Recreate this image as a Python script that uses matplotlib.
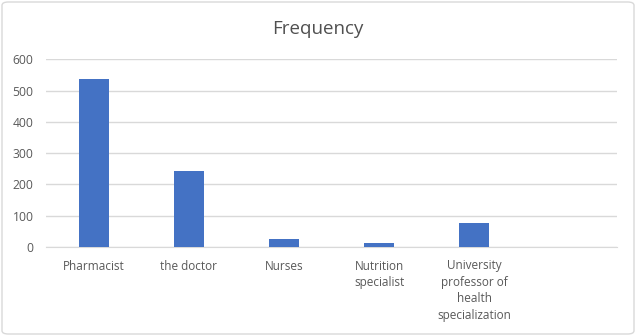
import matplotlib.pyplot as plt
from matplotlib.patches import FancyBboxPatch

categories = ["Pharmacist", "the doctor", "Nurses", "Nutrition\nspecialist",
              "University\nprofessor of\nhealth\nspecialization", ""]
frequency = [536, 243, 27, 12, 78, 0]
yticks = [0, 100, 200, 300, 400, 500, 600]

plt.rcParams['font.family'] = ['Open Sans', 'DejaVu Sans']
grey = "#595959"

fig = plt.figure(figsize=(6.36, 3.36), dpi=100)
ax = fig.add_axes([46 / 636, 1 - 247 / 336, 571 / 636, (247 - 59.3) / 336])

x = range(len(categories))
ax.bar(x, frequency, width=0.316, color="#4472c4", zorder=3)

ax.set_xlim(-0.5, len(categories) - 0.5)
ax.set_ylim(0, 600)
ax.set_yticks(yticks)
ax.set_xticks(list(x))
ax.set_xticklabels(categories, fontsize=8.5, color=grey, linespacing=1.35, va="top")
ax.tick_params(axis="y", labelsize=8.7, labelcolor=grey, length=0, pad=9)
ax.tick_params(axis="x", length=0, pad=9)
ax.grid(axis="y", color="#d9d9d9", linewidth=1, zorder=0)
for s in ["top", "right", "left"]:
    ax.spines[s].set_visible(False)
ax.spines["bottom"].set_color("#d9d9d9")

fig.text(0.5, 1 - 29 / 336, "Frequency", ha="center", va="center",
         fontsize=13.5, color="#505050")

border = FancyBboxPatch((2 / 636, 2 / 336), 632 / 636, 332 / 336,
                        boxstyle="round,pad=0,rounding_size=0.01",
                        transform=fig.transFigure, fill=False,
                        edgecolor="#d9d9d9", linewidth=1)
fig.patches.append(border)

fig.savefig("out.png", dpi=100)
